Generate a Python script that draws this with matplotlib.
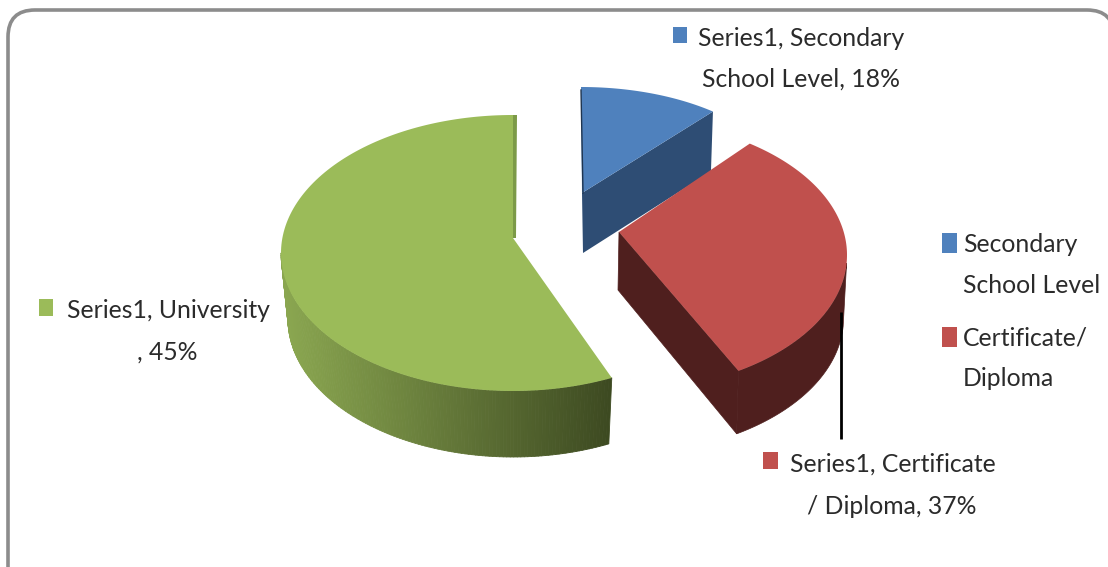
import numpy as np
import matplotlib
matplotlib.use('Agg')
import matplotlib.pyplot as plt
from matplotlib.collections import PolyCollection
from matplotlib.colors import to_rgb
from matplotlib.patches import FancyBboxPatch, Polygon, Rectangle

# slice sizes as drawn in the picture (the printed labels say something else)
categories = ['Secondary School Level', 'Certificate/Diploma', 'University']
drawn_share = [11, 31.5, 57]
label_lines = [['Series1, Secondary', 'School Level, 18%'],
               ['Series1, Certificate', '/ Diploma, 37%'],
               ['Series1, University', ', 45%']]
legend_lines = [['Secondary', 'School Level'], ['Certificate/', 'Diploma']]

top_colors = ['#4F81BD', '#C0504D', '#9BBB59']
side_colors = ['#2E4D74', '#4F1F1E', '#4F1F1E']

plt.rcParams['font.family'] = ['Lato', 'DejaVu Sans']
TEXT = '#2b2b2b'
FS = 17.8


def arc(cx, cy, rx, ry, start, sweep, n=160):
    t = np.radians(np.linspace(start, start - sweep, n))
    return cx + rx * np.cos(t), cy - ry * np.sin(t)


def lower(cx, x, y, depth, shrink=0.97):
    return cx + (x - cx) * shrink, y + depth


fig = plt.figure(figsize=(11.08, 5.67), dpi=100)
ax = fig.add_axes([0, 0, 1, 1])
ax.set_xlim(0, 1108)
ax.set_ylim(567, 0)
ax.axis('off')

frame = FancyBboxPatch((8, 10), 1106, 620, boxstyle='round,pad=0,rounding_size=27',
                       mutation_scale=1, fc='white', ec='#8c8c8c', lw=2.6)
ax.add_patch(frame)

# green slice, runs the other way round from the top
cx, cy, rx, ry = 513, 253, 232, 138
apex = (513, 238)
sweep = drawn_share[2] * 3.6
x, y = arc(cx, cy, rx, ry, 90, -sweep)
t = np.radians(np.linspace(180, 90 + sweep, 130))
xs, ys = cx + rx * np.cos(t), cy - ry * np.sin(t)
xb, yb = lower(cx, xs, ys, 66)
light, dark = np.array(to_rgb('#8AA650')), np.array(to_rgb('#3D4A21'))
quads, cols = [], []
for i in range(len(t) - 1):
    quads.append([(xs[i], ys[i]), (xs[i + 1], ys[i + 1]), (xb[i + 1], yb[i + 1]), (xb[i], yb[i])])
    f = np.clip((xs[i] - 285) / 325, 0, 1)
    cols.append(light + (dark - light) * f)
ax.add_collection(PolyCollection(quads, facecolors=cols, edgecolors=cols, linewidths=0.6))
ax.add_patch(Polygon([(512, 115), (517, 115), (516, 238), (512, 238)], fc='#7C9A48', ec='none'))
ax.add_patch(Polygon(list(zip(x, y)) + [apex], fc=top_colors[2], ec='none'))

# blue slice
cx, cy, rx, ry = 581, 194, 207, 107
sweep = drawn_share[0] * 3.6
x, y = arc(cx, cy, rx, ry, 90, sweep)
apex = (582, 193)
ax.add_patch(Polygon([apex, (x[-1], y[-1]), (x[-1] - 2, y[-1] + 60), (583, 253)],
                     fc=side_colors[0], ec='none'))
ax.plot([581, 583], [90, 193], color='#1f3550', lw=1)
ax.add_patch(Polygon(list(zip(x, y)) + [apex], fc=top_colors[0], ec='none'))

# red slice
cx, cy, rx, ry = 619, 255, 228, 136
sweep = drawn_share[1] * 3.6
x, y = arc(cx, cy, rx, ry, 55, sweep)
apex = (619, 232)
low = y > 262
xb, yb = lower(cx, x, y, 63, 0.985)
wall = list(zip(x[low], y[low])) + list(zip(xb[low][::-1], yb[low][::-1]))
ax.add_patch(Polygon(wall, fc=side_colors[1], ec=side_colors[1], lw=0.5))
ax.add_patch(Polygon([apex, (x[-1], y[-1]), (xb[-1], yb[-1]), (618, 290)],
                     fc=side_colors[1], ec=side_colors[1], lw=0.5))
ax.add_patch(Polygon(list(zip(x, y)) + [apex], fc=top_colors[1], ec='none'))

# leader line
ax.plot([841, 841], [312, 439], color='black', lw=2, solid_capstyle='butt')


def put(lines, xc, base, ha='center'):
    for s, xx, b in zip(lines, xc, base):
        ax.text(xx, b, s, ha=ha, va='baseline', fontsize=FS, color=TEXT)


put(label_lines[0], [801, 801], [46, 87])
put(label_lines[1], [893, 892], [472, 514])
put(label_lines[2], [168, 167], [318, 360])
put(legend_lines[0], [963, 963], [252, 293], ha='left')
put(legend_lines[1], [963, 963], [346, 386], ha='left')

for (px, py, w, h), c in zip([(673, 27, 14, 16), (763, 452, 15, 17), (39, 299, 14, 17),
                              (942, 233, 15, 20), (942, 327, 15, 20)],
                             [top_colors[0], top_colors[1], top_colors[2], top_colors[0], top_colors[1]]):
    ax.add_patch(Rectangle((px, py), w, h, fc=c, ec='none'))

fig.savefig('out.png', dpi=100)
